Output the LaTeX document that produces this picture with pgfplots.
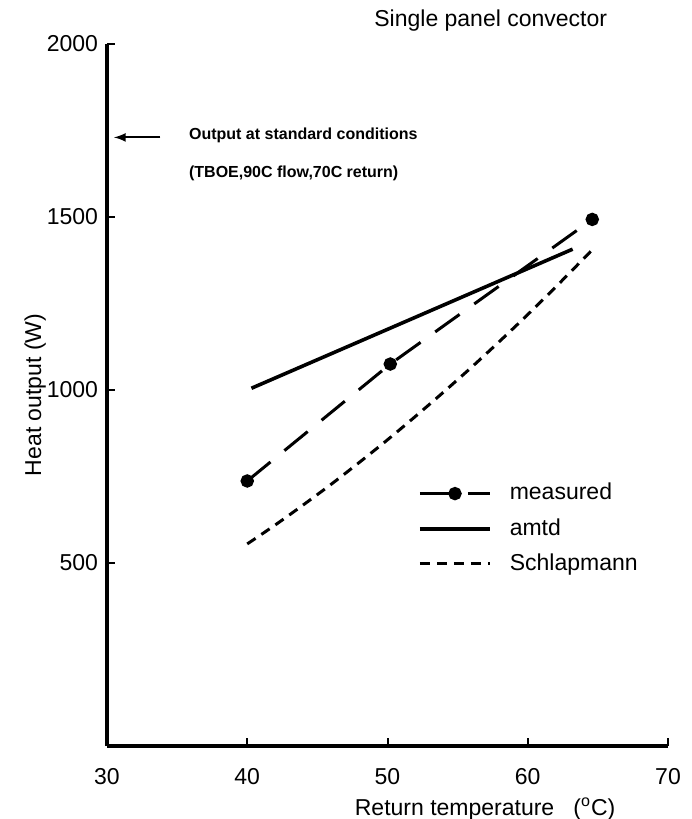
\documentclass[border=0pt]{standalone}
\usepackage{fontspec}
\setmainfont{Liberation Sans}
\usepackage{pgfplots}
\pgfplotsset{compat=1.18}
\begin{document}
\begin{tikzpicture}
\path[use as bounding box] (-53.5pt,-36.5pt) rectangle (292pt,373pt);
\begin{axis}[
  at={(0,0)}, anchor=south west,
  scale only axis, width=280.5pt, height=351pt,
  xmin=30, xmax=70, ymin=-29, ymax=2000,
  axis lines=left,
  axis line style={line width=1.8pt, -},
  xtick={30,40,50,60,70},
  ytick={500,1000,1500,2000},
  tick align=inside,
  major tick length=4pt,
  tick style={line width=1pt, black},
  font=\fontsize{11.5}{13}\selectfont,
  /pgf/number format/assume math mode=true,
  /pgf/number format/set thousands separator={},
  xticklabel style={yshift=-10pt, inner sep=1pt, font=\fontsize{11.5}{13}\selectfont},
  yticklabel style={xshift=-1pt, font=\fontsize{11.5}{13}\selectfont},
  xlabel={Return temperature \ \ (\textsuperscript{o}C)},
  ylabel={Heat output (W)},
  every axis x label/.style={at={(axis description cs:0.674,-0.09)}, anchor=center, inner sep=1pt},
  every axis y label/.style={at={(axis description cs:-0.128,0.5)}, rotate=90, anchor=center},
  clip=false,
  legend style={draw=none, fill=none, at={(axis description cs:0.554,0.378)}, anchor=north west,
    inner sep=0pt, row sep=5pt, font=\fontsize{11.5}{13}\selectfont,
    nodes={inner sep=1pt, text height=1.6ex, text depth=0.4ex},
    /tikz/every odd column/.append style={column sep=8pt}},
  legend cell align=left,
  legend image code/.code={\draw[mark repeat=2,mark phase=2,#1] plot coordinates {(0pt,0pt) (17.5pt,0pt) (35pt,0pt)};},
]
\addplot[black, line width=1.5pt, dash pattern=on 15pt off 9pt, mark=*, mark size=2.6pt, mark options={solid, fill=black}]
  coordinates {(40,737) (50.2,1075) (64.6,1493)};
\addlegendentry{measured}
\addplot[black, line width=1.8pt]
  coordinates {(40.3,1005) (63.2,1407)};
\addlegendentry{amtd}
\addplot[black, line width=1.5pt, dash pattern=on 5pt off 3.5pt, smooth]
  coordinates {(40,555) (42,610) (44,668) (46,728) (48,791) (50,856) (52,924) (54,994) (56,1066) (58,1141) (60,1218) (62,1298) (64.5,1401)};
\addlegendentry{Schlapmann}
\draw[-latex, line width=1pt] (axis cs:33.8,1730) -- (axis cs:30.5,1730);
\node[anchor=west, font=\bfseries\fontsize{8}{9}\selectfont] at (axis cs:35.35,1736) {Output at standard conditions};
\node[anchor=west, font=\bfseries\fontsize{8}{9}\selectfont] at (axis cs:35.35,1626) {(TBOE,90C flow,70C return)};
\node[anchor=center, font=\fontsize{11.5}{13}\selectfont] at (rel axis cs:0.684,1.034) {Single panel convector};
\end{axis}
\end{tikzpicture}
\end{document}
